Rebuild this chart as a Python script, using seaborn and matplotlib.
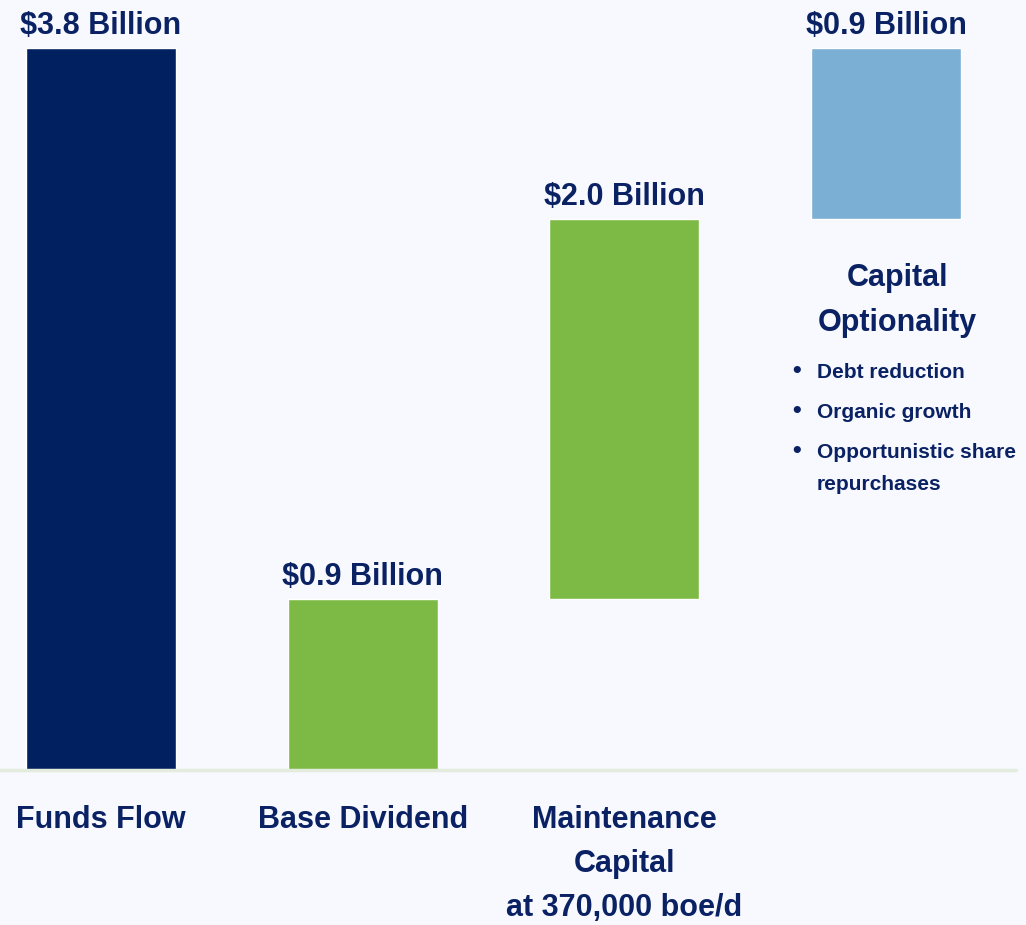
import matplotlib
matplotlib.use("Agg")
import matplotlib.pyplot as plt
import matplotlib.transforms as mtransforms
import seaborn as sns
import pandas as pd

sns.set_style("white")
plt.rcParams['font.family'] = ['Liberation Sans', 'DejaVu Sans']
plt.rcParams['font.weight'] = 'bold'

# Data
categories = ['Funds Flow', 'Base Dividend', 'Maintenance\nCapital\nat 370,000 boe/d', 'Capital Optionality']
values = [3.8, 0.9, 2.0, 0.9]
bottoms = [0.0, 0.0, 0.9, 2.9]
value_labels = ['$3.8 Billion', '$0.9 Billion', '$2.0 Billion', '$0.9 Billion']
tick_labels = ['Funds Flow', 'Base Dividend', 'Maintenance\nCapital\nat 370,000 boe/d', '']
bullets = ['Debt reduction', 'Organic growth', 'Opportunistic share\nrepurchases']

colors = ['#002060', '#7DBA45', '#7DBA45', '#7BAFD4']
navy = '#0A2163'
bg = '#F7F9FE'

df = pd.DataFrame({'Category': categories, 'Value': values})

fig = plt.figure(figsize=(10.26, 9.25), dpi=100, facecolor=bg)
ax = fig.add_axes([0, 155 / 925, 1, 770 / 925])
ax.set_facecolor(bg)

sns.barplot(data=df, x='Category', y='Value', hue='Category', palette=colors,
            legend=False, width=0.573, saturation=1, ax=ax)

# Shift bars to waterfall positions
for patch, b in zip(ax.patches, bottoms):
    patch.set_y(b)

# Value labels above each bar
for i, (v, b, lab) in enumerate(zip(values, bottoms, value_labels)):
    ax.annotate(lab, (i, v + b), xytext=(0, 5), textcoords='offset points',
                ha='center', va='bottom', fontsize=22, fontweight='bold', color=navy)

ax.set_xlim(-0.386, 3.535)
ax.set_ylim(0, 4.053)

# Baseline
ax.axhline(0, xmin=0, xmax=0.99, color='#E4ECDD', lw=2.5, zorder=3, clip_on=False)

# Category labels
ax.set_xticks(range(len(tick_labels)))
ax.set_xticklabels(tick_labels, fontsize=22, fontweight='bold', color=navy, linespacing=1.62)
ax.tick_params(axis='x', length=0, pad=25)
ax.set_yticks([])
ax.set_xlabel(None)
ax.set_ylabel(None)
sns.despine(ax=ax, left=True, bottom=True)

# Capital optionality annotation
ax.text(3.045, 2.59, 'Capital', ha='center', va='center', fontsize=22,
        fontweight='bold', color=navy)
ax.text(3.045, 2.353, 'Optionality', ha='center', va='center', fontsize=22,
        fontweight='bold', color=navy)
bullet_y = [2.10, 1.89, 1.679]
shift = mtransforms.ScaledTranslation(0, 0.12, fig.dpi_scale_trans)
for y, txt in zip(bullet_y, bullets):
    ax.text(2.66, y, '\u2022', ha='center', va='center', fontsize=18,
            fontweight='bold', color=navy)
    ax.text(2.736, y - 0.02, txt, ha='left', va='top', fontsize=15, fontweight='bold',
            color=navy, linespacing=1.9, transform=ax.transData + shift)

fig.savefig('out.png', dpi=100, facecolor=bg)
